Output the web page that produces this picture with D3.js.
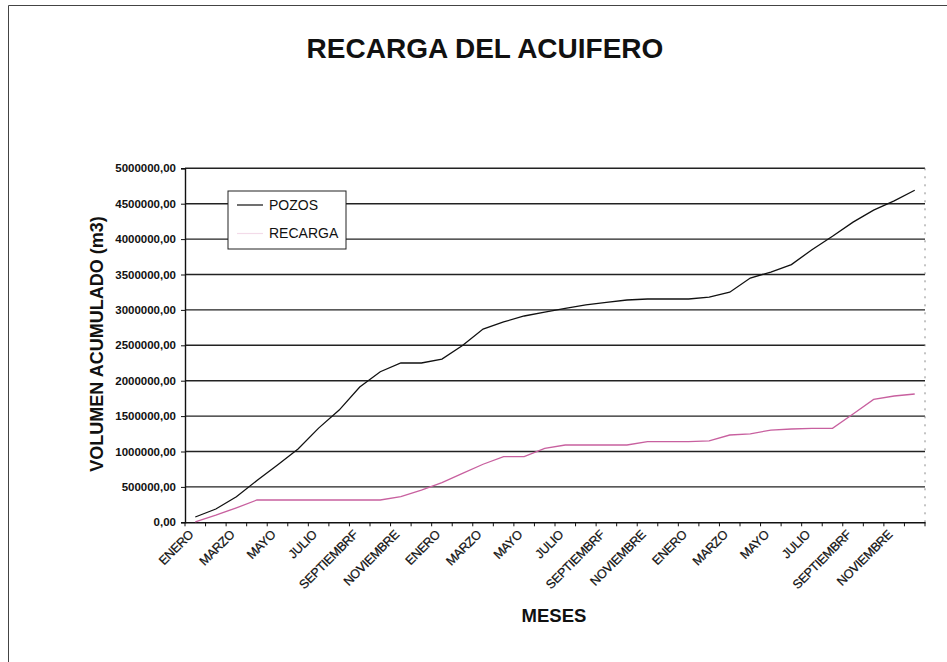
<!DOCTYPE html>
<html><head><meta charset="utf-8">
<script src="https://cdn.jsdelivr.net/npm/d3@7"></script>
<style>body{margin:0;background:#fff}svg{display:block}</style>
</head><body>
<svg id="c" width="947" height="662"></svg>
<script>
// ---- data ----
const title = "RECARGA DEL ACUIFERO";
const yTitle = "VOLUMEN ACUMULADO (m3)";
const xTitle = "MESES";
const categories = [
 "ENERO","FEBRERO","MARZO","ABRIL","MAYO","JUNIO","JULIO","AGOSTO","SEPTIEMBRF","OCTUBRE","NOVIEMBRE","DICIEMBRE",
 "ENERO","FEBRERO","MARZO","ABRIL","MAYO","JUNIO","JULIO","AGOSTO","SEPTIEMBRF","OCTUBRE","NOVIEMBRE","DICIEMBRE",
 "ENERO","FEBRERO","MARZO","ABRIL","MAYO","JUNIO","JULIO","AGOSTO","SEPTIEMBRF","OCTUBRE","NOVIEMBRE","DICIEMBRE"
];
const pozos = [
 75000,188000,360000,590000,810000,1035000,1330000,1585000,1910000,2127000,2250000,2250000,
 2306000,2497000,2730000,2830000,2914000,2970000,3020000,3070000,3105000,3140000,3154000,3154000,
 3154000,3180000,3250000,3450000,3535000,3640000,3850000,4040000,4240000,4410000,4540000,4690000
];
const recarga = [
 5000,100000,205000,315000,315000,315000,315000,315000,315000,315000,362000,456000,
 560000,690000,820000,927000,927000,1045000,1092000,1092000,1092000,1092000,1139000,1139000,
 1139000,1150000,1233000,1250000,1303000,1318000,1328000,1328000,1530000,1735000,1784000,1812000
];
const yTicks = [0,500000,1000000,1500000,2000000,2500000,3000000,3500000,4000000,4500000,5000000];
const seriesNames = ["POZOS","RECARGA"];
const seriesColors = ["#111111","#c8609f"];

// ---- layout ----
const svg = d3.select("#c");
const X0 = 185, X1 = 925, Y0 = 522.3, Y1 = 168.3;
const font = "Liberation Sans, Arial, sans-serif";

// frame of scanned page
svg.append("path").attr("d","M8.5,662 V5.5 H947").attr("fill","none").attr("stroke","#444").attr("stroke-width",1);

const x = d3.scaleBand().domain(d3.range(categories.length)).range([X0, X1]).paddingInner(0).paddingOuter(0);
const y = d3.scaleLinear().domain([0,5000000]).range([Y0, Y1]);

// gridlines
svg.append("g").selectAll("line").data(yTicks.filter(d=>d>0)).join("line")
  .attr("x1",X0).attr("x2",X1).attr("y1",d=>y(d)).attr("y2",d=>y(d))
  .attr("stroke","#222").attr("stroke-width",1.4);

// right plot border (faint dotted)
svg.append("line").attr("x1",X1).attr("x2",X1).attr("y1",Y1).attr("y2",Y0)
  .attr("stroke","#888").attr("stroke-width",1).attr("stroke-dasharray","2,6");

// y axis
const yAxis = d3.axisLeft(y).tickValues(yTicks).tickSize(4).tickPadding(5)
  .tickFormat(d => d.toFixed(2).replace(".", ","));
const gy = svg.append("g").attr("transform",`translate(${X0},0)`).call(yAxis);
gy.select(".domain").attr("stroke","#111").attr("stroke-width",1.4);
gy.selectAll(".tick line").attr("stroke","#111");
gy.selectAll("text").attr("font-family",font).attr("font-size","11.5px").attr("font-weight","bold").attr("fill","#111");

// x axis
const xAxis = d3.axisBottom(x).tickSize(0).tickFormat((d,i)=> i%2===0 ? categories[i] : "");
const gx = svg.append("g").attr("transform",`translate(0,${Y0})`).call(xAxis);
gx.select(".domain").attr("stroke","#111").attr("stroke-width",1.6);
gx.selectAll("text").attr("font-family",font).attr("font-size","12.5px").attr("fill","#111")
  .attr("letter-spacing","-0.3px").attr("stroke","#111").attr("stroke-width",0.25)
  .attr("text-anchor","end").attr("dy",null).attr("y",0)
  .attr("transform","translate(-1,13) rotate(-45)");
// tick marks between categories
svg.append("g").selectAll("line").data(d3.range(categories.length+1)).join("line")
  .attr("x1",i=>X0 + i*x.step()).attr("x2",i=>X0 + i*x.step())
  .attr("y1",Y0).attr("y2",Y0+4).attr("stroke","#111").attr("stroke-width",1);

// lines
const line = d3.line().x((d,i)=>x(i)+x.bandwidth()/2).y(d=>y(d));
svg.append("path").datum(recarga).attr("d",line).attr("fill","none")
  .attr("stroke",seriesColors[1]).attr("stroke-width",1.3);
svg.append("path").datum(pozos).attr("d",line).attr("fill","none")
  .attr("stroke",seriesColors[0]).attr("stroke-width",1.3);

// title
svg.append("text").attr("x",485).attr("y",58).attr("text-anchor","middle")
  .attr("font-family",font).attr("font-size","28px").attr("font-weight","bold").attr("fill","#111").text(title);
// y title
svg.append("text").attr("transform","translate(103,344) rotate(-90)").attr("text-anchor","middle")
  .attr("font-family",font).attr("font-size","18px").attr("font-weight","bold").attr("fill","#111").text(yTitle);
// x title
svg.append("text").attr("x",554).attr("y",622).attr("text-anchor","middle")
  .attr("font-family",font).attr("font-size","18.5px").attr("font-weight","bold").attr("fill","#111").text(xTitle);

// legend
const lg = svg.append("g");
lg.append("rect").attr("x",228).attr("y",191).attr("width",118).attr("height",58)
  .attr("fill","#fff").attr("stroke","#222").attr("stroke-width",1);
seriesNames.forEach((n,i)=>{
  lg.append("line").attr("x1",237).attr("x2",263).attr("y1",205+i*28.5).attr("y2",205+i*28.5)
    .attr("stroke",i===0?seriesColors[0]:"#f3dbe9").attr("stroke-width",1.2);
  lg.append("text").attr("x",269).attr("y",209.5+i*28.5).attr("font-family",font)
    .attr("font-size","14px").attr("fill","#111").text(n);
});
</script>
</body></html>
